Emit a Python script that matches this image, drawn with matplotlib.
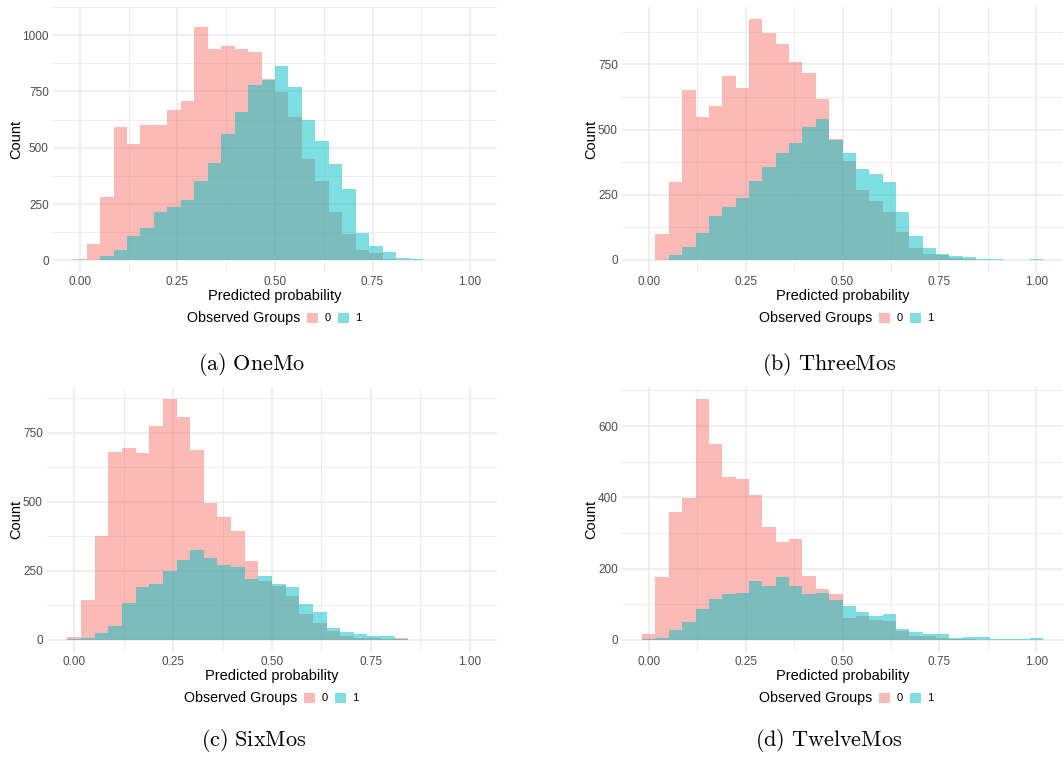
import numpy as np
import matplotlib
matplotlib.use("Agg")
import matplotlib.pyplot as plt
from matplotlib.patches import Patch

plt.rcParams['font.family'] = ['Liberation Sans', 'DejaVu Sans']
plt.rcParams['mathtext.fontset'] = 'cm'

# 30 bins (ggplot default), centred on i/29
nbins = 30
bw = 1 / 29
centers = np.arange(nbins) * bw

onemo_0 = [5, 71, 283, 593, 517, 602, 602, 666, 708, 1035, 938, 953, 938, 925, 806,
           746, 636, 449, 351, 215, 118, 45, 33, 4, 1, 0, 0, 0, 0, 0]
onemo_1 = [2, 2, 20, 45, 109, 143, 215, 237, 266, 351, 432, 560, 657, 780, 802,
           861, 768, 623, 530, 428, 317, 122, 62, 37, 11, 7, 3, 2, 1, 2]

threemos_0 = [1, 101, 298, 651, 549, 591, 704, 659, 924, 871, 830, 761, 716, 617, 465,
              378, 268, 226, 185, 109, 44, 21, 18, 6, 2, 1, 0, 0, 0, 0]
threemos_1 = [1, 1, 18, 48, 105, 169, 204, 238, 302, 355, 412, 450, 511, 541, 462,
              412, 348, 329, 298, 185, 90, 44, 22, 14, 10, 3, 2, 1, 1, 2]

sixmos_0 = [10, 145, 377, 680, 694, 676, 773, 872, 808, 687, 494, 445, 395, 284, 215,
            195, 159, 95, 63, 31, 13, 6, 6, 4, 6, 1, 0, 0, 0, 0]
sixmos_1 = [2, 6, 24, 49, 134, 191, 202, 248, 288, 327, 298, 273, 263, 220, 231,
            202, 191, 131, 102, 45, 27, 20, 13, 13, 2, 1, 1, 1, 1, 1]

twelvemos_0 = [16, 176, 359, 397, 676, 549, 458, 453, 408, 317, 276, 284, 179, 143, 129,
               63, 68, 57, 52, 24, 10, 10, 5, 3, 2, 1, 1, 1, 1, 1]
twelvemos_1 = [2, 5, 29, 49, 88, 115, 129, 132, 165, 151, 176, 151, 129, 132, 112,
               96, 79, 68, 74, 32, 21, 16, 16, 5, 7, 7, 2, 2, 2, 5]

captions = ['(a)\\ OneMo', '(b)\\ ThreeMos', '(c)\\ SixMos', '(d)\\ TwelveMos']
yticks = [[0, 250, 500, 750, 1000], [0, 250, 500, 750], [0, 250, 500, 750], [0, 200, 400, 600]]
xticks = [0, 0.25, 0.5, 0.75, 1.0]
xticklabels = ['0.00', '0.25', '0.50', '0.75', '1.00']

data = [(onemo_0, onemo_1), (threemos_0, threemos_1),
        (sixmos_0, sixmos_1), (twelvemos_0, twelvemos_1)]

W, H = 1063, 757
# panel boxes in pixels: left, top, right, bottom
boxes = [(53, 7, 497, 272), (622, 7, 1063, 272),
         (47, 387, 497, 652), (622, 387, 1063, 652)]
ylab_x = [16, 591, 16, 591]
xlab_base = [300, 300, 680, 680]
legend_pos = [(300, 318), (872, 318), (297, 698), (872, 698)]
caption_pos = [(252, 365), (829, 365), (254, 741), (829, 741)]

red = '#F8766D'
teal = '#00BFC4'
grid_c = '#EBEBEB'

fig = plt.figure(figsize=(W / 100, H / 100), dpi=100)

for i, (v0, v1) in enumerate(data):
    l, t, r, b = boxes[i]
    ax = fig.add_axes([l / W, 1 - b / H, (r - l) / W, (b - t) / H])
    ax.bar(centers, v0, width=bw, color=red, alpha=0.5, linewidth=0)
    ax.bar(centers, v1, width=bw, color=teal, alpha=0.5, linewidth=0)

    ymax = max(max(v0), max(v1))
    ax.set_ylim(-0.05 * ymax, 1.05 * ymax)
    lo, hi = -bw / 2, 1 + bw / 2
    span = hi - lo
    ax.set_xlim(lo - 0.05 * span, hi + 0.05 * span)

    yt = yticks[i]
    step = yt[1] - yt[0]
    ax.set_yticks(yt)
    ax.set_yticks([y + step / 2 for y in range(yt[0], int(1.05 * ymax), step)], minor=True)
    ax.set_xticks(xticks)
    ax.set_xticklabels(xticklabels)
    ax.set_xticks([0.125, 0.375, 0.625, 0.875], minor=True)

    ax.grid(which='major', color=grid_c, linewidth=1.1)
    ax.grid(which='minor', color=grid_c, linewidth=0.6)
    ax.set_axisbelow(True)
    ax.tick_params(which='both', length=0, labelsize=8.5, colors='#4D4D4D')
    ax.tick_params(axis='x', pad=3)
    ax.tick_params(axis='y', pad=3)
    for s in ax.spines.values():
        s.set_visible(False)

    ax.set_xlabel('Predicted probability', fontsize=10.5, va='baseline')
    ax.xaxis.set_label_coords(0.5, (b - xlab_base[i]) / (b - t))
    ax.set_ylabel('Count', fontsize=10.5, va='center')
    ax.yaxis.set_label_coords((ylab_x[i] - l) / (r - l), 0.5)

    # legend at bottom: title to the left of the keys
    lx, ly = legend_pos[i]
    fig.text(lx / W, 1 - ly / H, 'Observed Groups', ha='right', va='center', fontsize=10.3)
    handles = [Patch(facecolor=red, alpha=0.5, linewidth=0),
               Patch(facecolor=teal, alpha=0.5, linewidth=0)]
    ax.legend(handles, ['0', '1'], ncol=2, loc='center left',
              bbox_to_anchor=((lx + 7) / W, 1 - ly / H), bbox_transform=fig.transFigure,
              frameon=False, fontsize=8, handlelength=1.0, handleheight=1.0,
              handletextpad=0.6, columnspacing=0.6, borderpad=0, borderaxespad=0)

    cx, cy = caption_pos[i]
    fig.text(cx / W, 1 - cy / H, '$\\mathrm{' + captions[i] + '}$', ha='center', va='center',
             fontsize=16)

fig.savefig('out.png', dpi=100)
